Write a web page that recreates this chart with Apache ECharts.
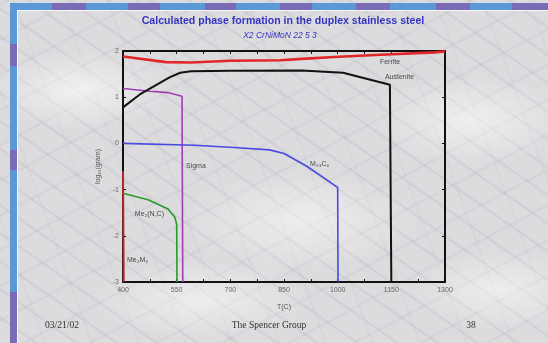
<!DOCTYPE html>
<html>
<head>
<meta charset="utf-8">
<script src="https://cdn.jsdelivr.net/npm/echarts@6/dist/echarts.min.js"></script>
<style>
  html, body { margin: 0; padding: 0; }
  body {
    width: 548px; height: 343px; overflow: hidden;
    background-color: #dcdcdf;
    background-image:
      radial-gradient(ellipse 90px 40px at 80px 90px, rgba(255,255,255,0.6), rgba(255,255,255,0) 100%),
      radial-gradient(ellipse 120px 50px at 300px 220px, rgba(255,255,255,0.5), rgba(255,255,255,0) 100%),
      radial-gradient(ellipse 100px 45px at 470px 120px, rgba(255,255,255,0.55), rgba(255,255,255,0) 100%),
      radial-gradient(ellipse 110px 40px at 200px 300px, rgba(255,255,255,0.5), rgba(255,255,255,0) 100%),
      radial-gradient(ellipse 90px 40px at 500px 290px, rgba(255,255,255,0.5), rgba(255,255,255,0) 100%),
      repeating-linear-gradient(35deg, rgba(140,140,150,0) 0px, rgba(140,140,150,0) 19px, rgba(140,140,150,0.16) 21px, rgba(140,140,150,0) 23px),
      repeating-linear-gradient(-28deg, rgba(150,150,160,0) 0px, rgba(150,150,160,0) 27px, rgba(150,150,160,0.13) 29px, rgba(150,150,160,0) 31px),
      repeating-linear-gradient(70deg, rgba(150,150,160,0) 0px, rgba(150,150,160,0) 41px, rgba(150,150,160,0.1) 42px, rgba(150,150,160,0) 44px);
  }
  #chart { width: 548px; height: 343px; }
</style>
</head>
<body>
<div id="chart"></div>
<script>
// Temperature axis (deg C) and log10 amount axis
const tempLabels = [400, 550, 700, 850, 1000, 1150, 1300];
const tempTickMarks = [400, 475, 550, 625, 700, 775, 850, 925, 1000, 1075, 1150, 1225, 1300];
const logLabels = [-3, -2, -1, 0, 1, 2];

// Phase amounts: [T (C), log10(gram)]
const ferrite = [[400, 1.88], [520, 1.76], [590, 1.75], [700, 1.79], [840, 1.80], [900, 1.83], [990, 1.87], [1120, 1.92], [1270, 1.97], [1300, 1.99]];
const austenite = [[400, 0.78], [447, 1.06], [530, 1.43], [560, 1.53], [590, 1.56], [700, 1.57], [900, 1.58], [1015, 1.53], [1146, 1.27], [1150, -3]];
const sigma = [[400, 1.19], [475, 1.13], [525, 1.10], [565, 1.02], [567, -3]];
const m23c6 = [[400, 0.0], [600, -0.04], [710, -0.09], [810, -0.14], [850, -0.22], [915, -0.50], [1000, -0.95], [1001, -3]];
const me2nc = [[400, -1.08], [470, -1.22], [526, -1.42], [545, -1.60], [550, -1.75], [551, -3]];
const me2m3 = [[400, -0.60], [402, -3]];

// Curve names and where each name is written
const phaseNames = ['Ferrite', 'Austenite', 'Sigma', 'M₂₃C₆', 'Me₂(N,C)', 'Me₂M₃'];
const nameAnchors = [[1118, 1.75], [1132, 1.43], [576, -0.50], [923, -0.44], [433, -1.52], [411, -2.52]];

const chart = echarts.init(document.getElementById('chart'), null, { renderer: 'canvas' });

// Slide frame bands along the top and left edges
const blue = '#5b98d6', purple = '#7a6cb4';
const frame = [];
const topCuts = [10, 52, 86, 128, 160, 205, 236, 280, 312, 356, 390, 436, 470, 512, 548];
for (let i = 0; i < topCuts.length - 1; i++) {
  frame.push({ type: 'rect', shape: { x: topCuts[i], y: 3, width: topCuts[i + 1] - topCuts[i], height: 7 },
    style: { fill: i % 2 ? purple : blue }, silent: true });
}
const leftCuts = [3, 44, 66, 150, 170, 292, 343];
for (let i = 0; i < leftCuts.length - 1; i++) {
  frame.push({ type: 'rect', shape: { x: 10, y: leftCuts[i], width: 7, height: leftCuts[i + 1] - leftCuts[i] },
    style: { fill: i % 2 ? purple : blue }, silent: true });
}
frame.push({ type: 'rect', shape: { x: 17, y: 10, width: 531, height: 1 }, style: { fill: 'rgba(255,255,255,0.8)' }, silent: true });
frame.push({ type: 'rect', shape: { x: 17, y: 10, width: 1, height: 333 }, style: { fill: 'rgba(255,255,255,0.8)' }, silent: true });

const titleColor = '#3434c0';
const serif = '"Liberation Serif", "Times New Roman", serif';
const texts = [
  { type: 'text', x: 283, y: 21, style: { text: 'Calculated phase formation in the duplex stainless steel', fill: titleColor,
      font: 'bold 10.6px "Liberation Sans", Arial, sans-serif', align: 'center', verticalAlign: 'middle' } },
  { type: 'text', x: 280, y: 36, style: { text: 'X2 CrNiMoN 22 5 3', fill: titleColor,
      font: 'italic 8.5px "Liberation Sans", Arial, sans-serif', align: 'center', verticalAlign: 'middle' } },
  { type: 'text', x: 62, y: 325, style: { text: '03/21/02', fill: '#333',
      font: '9.5px ' + serif, align: 'center', verticalAlign: 'middle' } },
  { type: 'text', x: 269, y: 325, style: { text: 'The Spencer Group', fill: '#333',
      font: '9.5px ' + serif, align: 'center', verticalAlign: 'middle' } },
  { type: 'text', x: 471, y: 325, style: { text: '38', fill: '#333',
      font: '9.5px ' + serif, align: 'center', verticalAlign: 'middle' } }
];

const axisFont = { fontFamily: '"Liberation Sans", Arial, sans-serif', fontSize: 7, color: '#666' };
const frameLine = { show: true, onZero: false, lineStyle: { color: '#111', width: 2 } };
const innerTick = { show: true, inside: true, length: 3, lineStyle: { color: '#111', width: 1 } };
const plain = v => String(v);

function line(data, color, width) {
  return { type: 'line', data: data, symbol: 'none', smooth: false, clip: true,
    lineStyle: { color: color, width: width }, z: 3 };
}

chart.setOption({
  backgroundColor: 'transparent',
  animation: false,
  grid: { left: 123, right: 103, top: 51, bottom: 61, containLabel: false },
  graphic: frame.concat(texts),
  xAxis: [
    { type: 'value', position: 'bottom', min: 400, max: 1300,
      axisLine: frameLine,
      axisTick: Object.assign({}, innerTick, { customValues: tempTickMarks }),
      axisLabel: Object.assign({ margin: 5, customValues: tempLabels, formatter: plain }, axisFont),
      splitLine: { show: false },
      name: 'T(C)', nameLocation: 'middle', nameGap: 22,
      nameTextStyle: { fontFamily: '"Liberation Sans", Arial, sans-serif', fontSize: 7, color: '#555' } },
    { type: 'value', position: 'top', min: 400, max: 1300,
      axisLine: frameLine,
      axisTick: Object.assign({}, innerTick, { customValues: tempTickMarks }),
      axisLabel: { show: false }, splitLine: { show: false } }
  ],
  yAxis: [
    { type: 'value', position: 'left', min: -3, max: 2, interval: 1,
      axisLine: frameLine, axisTick: innerTick,
      axisLabel: Object.assign({ margin: 4, customValues: logLabels, formatter: plain }, axisFont),
      splitLine: { show: false },
      name: 'log₁₀(gram)', nameLocation: 'middle', nameGap: 12, nameRotate: 90,
      nameTextStyle: { fontFamily: '"Liberation Sans", Arial, sans-serif', fontSize: 7, color: '#555' } },
    { type: 'value', position: 'right', min: -3, max: 2, interval: 1,
      axisLine: frameLine, axisTick: innerTick,
      axisLabel: { show: false }, splitLine: { show: false } }
  ],
  series: [
    line(me2m3, '#b42a2a', 2),
    line(me2nc, '#2a9a2a', 1.6),
    line(sigma, '#a23cb4', 1.6),
    line(m23c6, '#4a4ae0', 1.6),
    line(austenite, '#111111', 2),
    line(ferrite, '#e02626', 2.6),
    { type: 'scatter', symbolSize: 0, silent: true, z: 4,
      data: nameAnchors.map((p, i) => ({ value: p, name: phaseNames[i] })),
      label: { show: true, position: 'right', distance: 0, formatter: '{b}',
        fontFamily: '"Liberation Sans", Arial, sans-serif', fontSize: 7, color: '#222' } }
  ]
});
</script>
</body>
</html>
